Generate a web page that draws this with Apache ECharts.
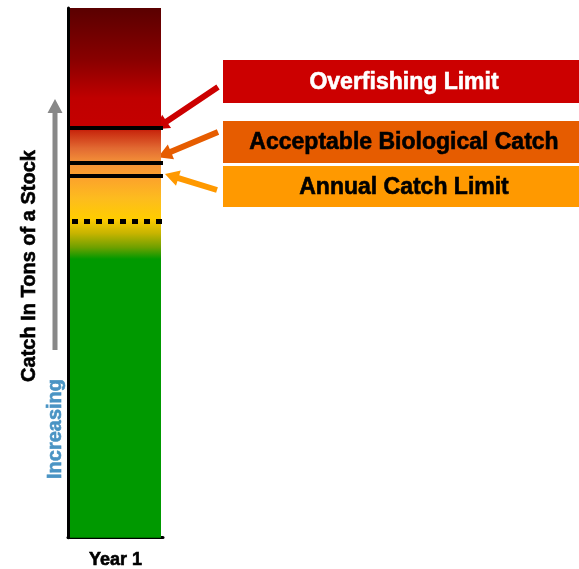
<!DOCTYPE html>
<html>
<head>
<meta charset="utf-8">
<script src="https://cdn.jsdelivr.net/npm/echarts@6/dist/echarts.min.js"></script>
<style>
  html, body { margin: 0; padding: 0; background: #fff; }
  #chart { width: 579px; height: 569px; }
</style>
</head>
<body>
<div id="chart"></div>
<script>
// data
const categories = ['Year 1'];
const stockCatch = [100];
const limitNames = ['Overfishing Limit', 'Acceptable Biological Catch', 'Annual Catch Limit'];
const limitValues = [77.3, 70.7, 68.3];
const targetValue = [59.8];

const boxColors = ['#cc0000', '#e65c00', '#ff9900'];
const textColors = ['#ffffff', '#000000', '#000000'];
const FONT = '"Liberation Sans", Arial, sans-serif';

const chart = echarts.init(document.getElementById('chart'));

const barGradient = new echarts.graphic.LinearGradient(0, 0, 0, 1, [
  { offset: 0, color: '#5a0000' },
  { offset: 0.1, color: '#8a0000' },
  { offset: 0.17, color: '#c00000' },
  { offset: 0.225, color: '#c40000' },
  { offset: 0.232, color: '#c8280e' },
  { offset: 0.265, color: '#e26a32' },
  { offset: 0.29, color: '#f38f38' },
  { offset: 0.32, color: '#fca22c' },
  { offset: 0.36, color: '#fdbc1e' },
  { offset: 0.398, color: '#ffcc00' },
  { offset: 0.425, color: '#c8b400' },
  { offset: 0.452, color: '#6ea000' },
  { offset: 0.474, color: '#009900' },
  { offset: 1, color: '#009900' }
]);

const option = {
  animation: false,
  grid: { left: 68, width: 95, top: 8, bottom: 28 },
  xAxis: {
    type: 'category',
    data: categories,
    axisLine: { lineStyle: { color: '#000', width: 3 } },
    axisTick: { show: false },
    axisLabel: {
      margin: 13,
      color: '#000',
      fontWeight: 'bold',
      fontSize: 18,
      fontFamily: FONT,
      textBorderColor: '#000',
      textBorderWidth: 0.6
    }
  },
  yAxis: {
    type: 'value',
    min: 0,
    max: 100,
    axisLine: { show: true, lineStyle: { color: '#000', width: 3 } },
    axisTick: { show: false },
    axisLabel: { show: false },
    splitLine: { show: false }
  },
  series: [
    {
      type: 'bar',
      data: stockCatch,
      barWidth: 91,
      barGap: 0,
      itemStyle: { color: barGradient },
      markLine: {
        silent: true,
        symbol: 'none',
        label: { show: false },
        data: limitValues.map(v => ({
          yAxis: v,
          lineStyle: { color: '#000', width: 4, type: 'solid' }
        })).concat(targetValue.map(v => ({
          yAxis: v,
          lineStyle: { color: '#000', width: 5, type: [6, 6], dashOffset: -4 }
        })))
      }
    }
  ]
};

chart.setOption(option);

// arrow polygon from start to tip
function arrow(x1, y1, x2, y2, shaftW, headW, headL) {
  const dx = x2 - x1, dy = y2 - y1;
  const len = Math.sqrt(dx * dx + dy * dy);
  const ux = dx / len, uy = dy / len;
  const nx = -uy, ny = ux;
  const bx = x2 - ux * headL, by = y2 - uy * headL;
  return [
    [x1 + nx * shaftW / 2, y1 + ny * shaftW / 2],
    [bx + nx * shaftW / 2, by + ny * shaftW / 2],
    [bx + nx * headW / 2, by + ny * headW / 2],
    [x2, y2],
    [bx - nx * headW / 2, by - ny * headW / 2],
    [bx - nx * shaftW / 2, by - ny * shaftW / 2],
    [x1 - nx * shaftW / 2, y1 - ny * shaftW / 2]
  ];
}

const py = limitValues.map(v => chart.convertToPixel({ yAxisIndex: 0 }, v));
const boxes = [[60, 43], [121, 42], [166, 41]];
const arrowStarts = [[218, 87], [218, 132], [217, 190]];
const arrowTips = [[155, py[0] + 1], [158, py[1] - 6], [165, py[2] - 2]];

const graphics = [];
limitNames.forEach((name, i) => {
  graphics.push({
    type: 'rect',
    shape: { x: 223, y: boxes[i][0], width: 360, height: boxes[i][1] },
    style: { fill: boxColors[i] }
  });
  graphics.push({
    type: 'text',
    x: 404,
    y: boxes[i][0] + boxes[i][1] / 2 + 1,
    style: {
      text: name,
      fill: textColors[i],
      stroke: textColors[i],
      lineWidth: 0.6,
      font: 'bold 23px ' + FONT,
      align: 'center',
      verticalAlign: 'middle'
    }
  });
  graphics.push({
    type: 'polygon',
    shape: { points: arrow(arrowStarts[i][0], arrowStarts[i][1], arrowTips[i][0], arrowTips[i][1], 6, 16, 14) },
    style: { fill: boxColors[i] }
  });
});

// "increasing" arrow and axis title
graphics.push({
  type: 'polygon',
  shape: { points: arrow(55, 350, 55, 99, 5, 15, 14) },
  style: { fill: '#888888' }
});
graphics.push({
  type: 'text',
  x: 29,
  y: 266,
  rotation: Math.PI / 2,
  style: {
    text: 'Catch In Tons of a Stock',
    fill: '#000',
    stroke: '#000',
    lineWidth: 0.6,
    font: 'bold 20px ' + FONT,
    align: 'center',
    verticalAlign: 'middle'
  }
});
graphics.push({
  type: 'text',
  x: 55,
  y: 429,
  rotation: Math.PI / 2,
  style: {
    text: 'Increasing',
    fill: '#4a94c4',
    stroke: '#4a94c4',
    lineWidth: 0.6,
    font: 'bold 20px ' + FONT,
    align: 'center',
    verticalAlign: 'middle'
  }
});

chart.setOption({ graphic: graphics });
</script>
</body>
</html>
